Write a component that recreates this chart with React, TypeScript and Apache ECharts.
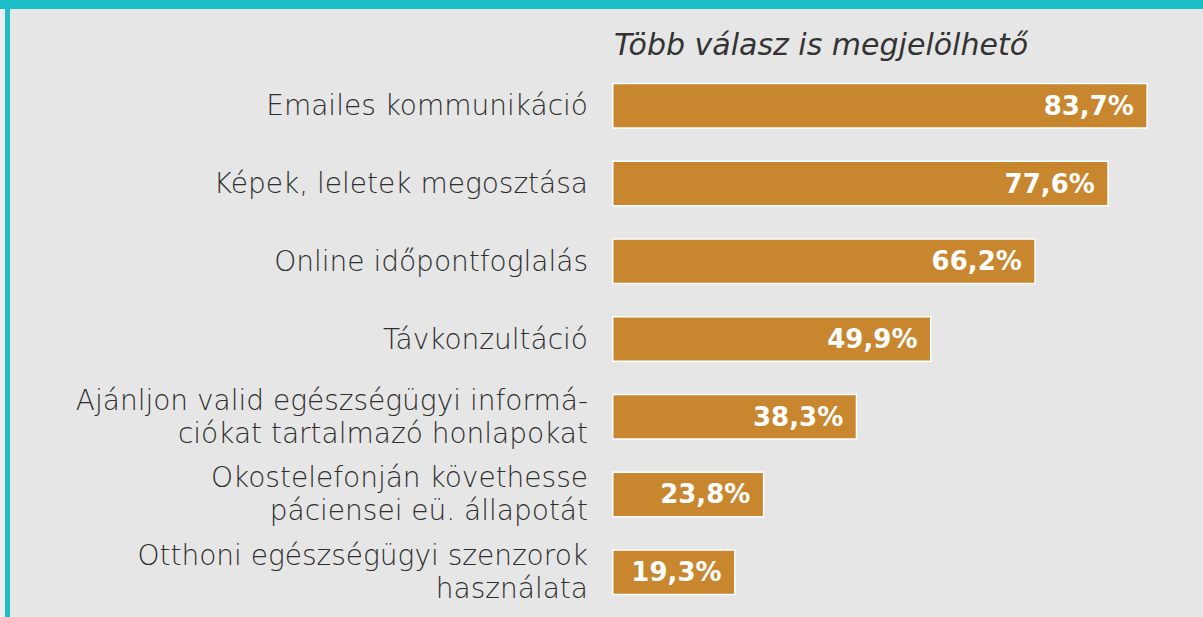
import React, { useEffect, useRef } from "react";
import * as echarts from "echarts";

const categories = [
  "Emailes kommunikáció",
  "Képek, leletek megosztása",
  "Online időpontfoglalás",
  "Távkonzultáció",
  "Ajánljon valid egészségügyi informá-\nciókat tartalmazó honlapokat",
  "Okostelefonján követhesse\npáciensei eü. állapotát",
  "Otthoni egészségügyi szenzorok\nhasználata",
];
const values = [83.7, 77.6, 66.2, 49.9, 38.3, 23.8, 19.3];
const title = "Több válasz is megjelölhető";

export default function App() {
  const ref = useRef<HTMLDivElement>(null);
  useEffect(() => {
    document.body.style.margin = "0";
    const chart = echarts.init(ref.current!, null, { renderer: "svg" });
    chart.setOption({
      animation: false,
      backgroundColor: "#e6e6e6",
      textStyle: { fontFamily: "DejaVu Sans" },
      graphic: [
        { type: "rect", shape: { x: 0, y: 0, width: 5, height: 617 }, style: { fill: "#efefef" } },
        { type: "rect", shape: { x: 5, y: 0, width: 5, height: 617 }, style: { fill: "#1dbec8" } },
        { type: "rect", shape: { x: 0, y: 0, width: 1203, height: 9 }, style: { fill: "#1dbec8" } },
        {
          type: "text",
          left: 614,
          top: 29,
          style: {
            text: title,
            font: "italic 200 30px 'DejaVu Sans'",
            fill: "#333333",
          },
        },
      ],
      grid: { left: 612, right: 2, top: 67, bottom: 6, containLabel: false },
      xAxis: {
        type: "value",
        min: 0,
        max: 92,
        show: false,
      },
      yAxis: {
        type: "category",
        inverse: true,
        data: categories,
        axisLine: { show: false },
        axisTick: { show: false },
        axisLabel: {
          margin: 24,
          color: "#2e2e2e",
          fontSize: 28,
          lineHeight: 33,
          fontFamily: "DejaVu Sans",
          fontWeight: 200,
          align: "right",
        },
      },
      series: [
        {
          type: "bar",
          data: values,
          barWidth: 46,
          itemStyle: { color: "#c8862e", borderColor: "#ffffff", borderWidth: 1.5 },
          label: {
            show: true,
            position: "insideRight",
            distance: 14,
            color: "#ffffff",
            fontSize: 26,
            fontWeight: "bold",
            fontFamily: "DejaVu Sans",
            formatter: (p: any) => p.value.toFixed(1).replace(".", ",") + "%",
          },
        },
      ],
    });
    return () => chart.dispose();
  }, []);
  return <div ref={ref} style={{ width: 1203, height: 617 }} />;
}
